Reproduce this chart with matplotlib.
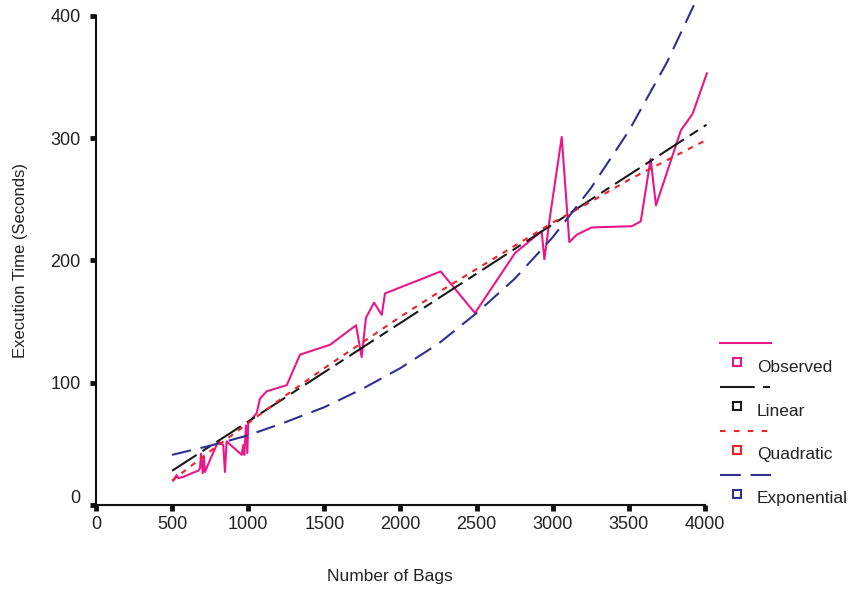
import matplotlib
matplotlib.use('Agg')
import matplotlib.pyplot as plt
from matplotlib.lines import Line2D
from matplotlib.transforms import ScaledTranslation

plt.rcParams['font.family'] = ['Liberation Sans', 'DejaVu Sans']
plt.rcParams['lines.scale_dashes'] = False

# observed run times
obs_bags = [508, 530, 541, 573, 639, 672, 683, 690, 701, 709, 716, 749, 803, 836, 847,
            858, 957, 967, 974, 985, 994, 1000, 1055, 1077, 1121, 1187, 1253, 1340, 1537,
            1708, 1745, 1773, 1826, 1877, 1898, 2264, 2489, 2752, 2927, 2945, 2982, 3059,
            3109, 3157, 3256, 3519, 3578, 3643, 3678, 3842, 3919, 4012]
obs_time = [20, 24.5, 22, 23, 26.5, 28, 30, 42, 26, 39, 27, 37, 52, 49, 27,
            52, 41, 49, 41, 65, 42.5, 67, 75, 87, 93, 95.5, 98, 123, 131,
            147, 121, 153, 165.5, 155.5, 173, 191, 157, 206, 224, 201, 236, 301,
            215, 221, 227, 228, 232, 283, 245, 306.5, 320, 353]

# fitted models
lin_bags = [500, 4010]
lin_time = [28, 311]

fit_bags = [500, 750, 1000, 1250, 1500, 1750, 2000, 2250, 2500, 2750, 3000, 3250, 3500, 3750, 4000]
quad_time = [20, 44, 67, 90, 112, 133, 154, 174, 193, 212, 231, 248, 266, 282, 298]
exp_time = [41, 48.5, 57, 68, 80, 95, 112, 132, 157, 185, 219, 259, 306, 362, 428]

x_ticks = [0, 500, 1000, 1500, 2000, 2500, 3000, 3500, 4000]
y_ticks = [0, 100, 200, 300, 400]

c_obs = '#e8178a'
c_lin = '#1a1a1a'
c_quad = '#ec2228'
c_exp = '#2e3192'
txt = '#222222'

fig = plt.figure(figsize=(8.57, 5.91), dpi=100)
ax = fig.add_axes([96/857, 86/591, 612.8/857, 505/591])

ax.plot(obs_bags, obs_time, color=c_obs, lw=1.5)
ax.plot(lin_bags, lin_time, color=c_lin, lw=1.5, ls=(0, (21, 5, 7, 5)))
ax.plot(fit_bags, quad_time, color=c_quad, lw=1.5, ls=(0, (4, 4.5)))
ax.plot(fit_bags, exp_time, color=c_exp, lw=1.5, ls=(0, (14, 7)))

ax.set_xlim(0, 4025)
ax.set_ylim(0, 413)
ax.set_xticks(x_ticks)
ax.set_yticks(y_ticks)
for s in ['top', 'right']:
    ax.spines[s].set_visible(False)
for s in ['left', 'bottom']:
    ax.spines[s].set_linewidth(1.5)
    ax.spines[s].set_color('#111111')
ax.spines['left'].set_bounds(0, 400)
ax.spines['bottom'].set_bounds(0, 4000)
ax.tick_params(direction='out', length=4, width=3.5, color='#111111',
               labelsize=13, labelcolor=txt)
ax.tick_params(axis='x', pad=4)
ax.tick_params(axis='y', pad=7)

ax.set_xlabel('Number of Bags', fontsize=12.5, color=txt)
ax.set_ylabel('Execution Time (Seconds)', fontsize=12, color=txt)
ax.xaxis.set_label_coords(0.48, -0.127)
ax.yaxis.set_label_coords(-0.111, 0.485)

# lift the zero label on the y axis a little
ylab0 = ax.get_yticklabels()[0]
ylab0.set_transform(ylab0.get_transform() + ScaledTranslation(0, 6/72, fig.dpi_scale_trans))

# legend: line sample on one row, square marker and name on the next
W, H = 857, 591
entries = [('Observed', c_obs, '-'),
           ('Linear', c_lin, (0, (25, 6, 5, 6))),
           ('Quadratic', c_quad, (0, (4, 6))),
           ('Exponential', c_exp, (0, (15, 7)))]
for i, (name, col, ls) in enumerate(entries):
    y0 = 343.3 + i*43.8
    fig.add_artist(Line2D([720/W, 771/W], [1 - y0/H, 1 - y0/H], color=col, lw=1.5, ls=ls))
    fig.add_artist(Line2D([737/W], [1 - (y0 + 19)/H], marker='s', ms=6, mfc='white',
                          mec=col, mew=1.5, ls='none'))
    fig.text(757/W, 1 - (y0 + 24)/H, name, fontsize=12.5, color=txt, va='center', ha='left')

fig.savefig('out.png', dpi=100)
